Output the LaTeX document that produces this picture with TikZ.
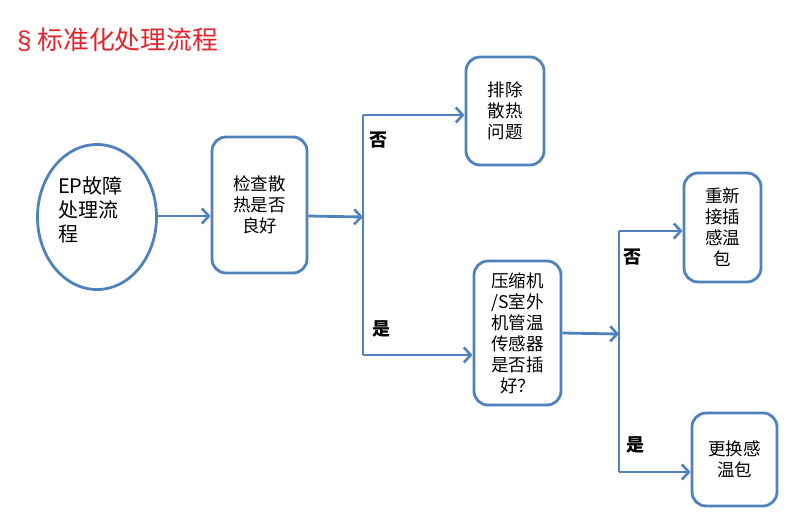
\documentclass[tikz,border=0pt]{standalone}
\usepackage{fontspec}
\setmainfont{Noto Sans CJK SC}
\newfontfamily\latinsans{Liberation Sans}
\usetikzlibrary{arrows.meta,shapes.geometric}
\definecolor{lineblue}{HTML}{4F81BD}
\definecolor{titlered}{HTML}{E3242B}
\tikzset{
  box/.style={draw=lineblue, line width=2.8pt, rounded corners=14pt, fill=white, align=center,
    font=\fontsize{17.5}{21}\selectfont, inner sep=0pt},
  conn/.style={draw=lineblue, line width=2.8pt, -{Straight Barb[length=7pt,width=15pt,line width=2.6pt]}},
  trunk/.style={draw=lineblue, line width=2.8pt},
  lbl/.style={font=\fontsize{18}{20}\selectfont\bfseries, inner sep=0pt}
}
\begin{document}
\begin{tikzpicture}[x=1pt,y=-1pt]
\useasboundingbox (0,0) rectangle (809,520);
\node[text=titlered, font=\fontsize{25.8}{28}\selectfont, anchor=west, inner sep=0pt] (title) at (17,40) {{\latinsans §}\hspace{6pt}标准化处理流程};
% start ellipse
\node[ellipse, draw=lineblue, line width=2.8pt, minimum width=119pt, minimum height=145pt, inner sep=0pt] (start) at (97,217) {};
\node[align=left, font=\fontsize{20}{24}\selectfont, anchor=north west, inner sep=0pt] (starttxt) at (58,176) {EP故障\\处理流\\程};
% boxes
\node[box, minimum width=95pt, minimum height=136pt] (check) at (259.5,205) {检查散\\热是否\\良好};
\node[box, minimum width=78pt, minimum height=108pt] (fix) at (505,111) {排除\\散热\\问题};
\node[box, minimum width=87pt, minimum height=144pt] (sensor) at (517.5,333) {压缩机\\/S室外\\机管温\\传感器\\是否插\\好？};
\node[box, minimum width=77pt, minimum height=109pt] (replug) at (722.5,227.5) {重新\\接插\\感温\\包};
\node[box, minimum width=85pt, minimum height=93pt] (replace) at (734.5,459.5) {更换感\\温包};
% junctions
\coordinate (j1) at (363,217);
\coordinate (j1t) at (363,115);
\coordinate (j1b) at (363,355);
\coordinate (j2) at (619,334);
\coordinate (j2t) at (619,231);
\coordinate (j2b) at (619,472);
% connectors
\draw[conn] (start.east |- 0,216) -- (check.west |- 0,216);
\draw[conn] (check.east |- 0,216) -- (j1);
\draw[trunk] (j1t) -- (j1b);
\draw[conn] (j1t) -- (fix.west |- j1t);
\draw[conn] (j1b) -- (sensor.west |- j1b);
\draw[conn] (sensor.east |- 0,333) -- (j2);
\draw[trunk] (j2t) -- (j2b);
\draw[conn] (j2t) -- (replug.west |- j2t);
\draw[conn] (j2b) -- (replace.west |- j2b);
% labels
\node[lbl] (no1) at (378,140) {否};
\node[lbl] (yes1) at (381,329) {是};
\node[lbl] (no2) at (632,257) {否};
\node[lbl] (yes2) at (635,445) {是};
\end{tikzpicture}
\end{document}
